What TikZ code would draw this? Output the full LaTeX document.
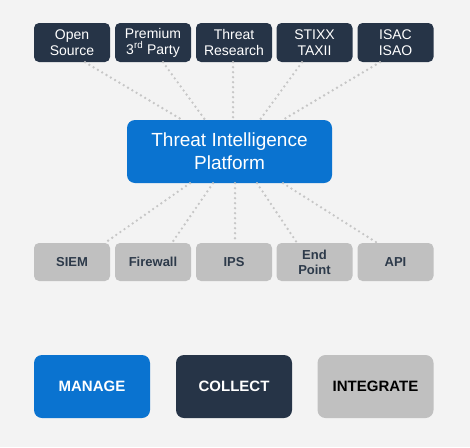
\documentclass[tikz,border=0pt]{standalone}
\usepackage{fontspec}
\setmainfont{Liberation Sans}
\usetikzlibrary{calc}
\definecolor{bgc}{RGB}{243,243,243}
\definecolor{navy}{RGB}{38,52,71}
\definecolor{tblue}{RGB}{10,115,208}
\definecolor{lgray}{RGB}{192,192,192}
\definecolor{dotc}{RGB}{198,198,198}
\definecolor{gtext}{RGB}{45,58,74}
\tikzset{
  srcbox/.style={fill=navy, text=white, rounded corners=5pt, minimum width=76pt, minimum height=39pt, inner sep=0pt, align=center, font=\fontsize{14}{16}\selectfont},
  tipbox/.style={fill=tblue, text=white, rounded corners=8pt, minimum width=205pt, minimum height=63pt, inner sep=0pt, align=center, font=\fontsize{19}{23}\selectfont},
  dstbox/.style={fill=lgray, text=gtext, rounded corners=5pt, minimum width=76pt, minimum height=38pt, inner sep=0pt, align=center, font=\fontsize{13}{15}\selectfont\bfseries},
  btn/.style={rounded corners=8pt, minimum width=116pt, minimum height=63pt, inner sep=0pt, align=center, font=\fontsize{15}{17}\selectfont\bfseries},
  dotline/.style={draw=dotc, line width=2.6pt, line cap=round, dash pattern=on 0pt off 5pt}
}
\begin{document}
\begin{tikzpicture}[x=1pt,y=-1pt]
\fill[bgc] (0,0) rectangle (470,447);
\useasboundingbox (0,0) rectangle (470,447);
% top sources
\node[srcbox] (os) at (72,42.5) {Open\\Source};
\node[srcbox] (pr) at (153,42.5) {Premium\\3\textsuperscript{rd} Party};
\node[srcbox] (tr) at (234,42.5) {Threat\\Research};
\node[srcbox] (st) at (314.5,42.5) {STIXX\\TAXII};
\node[srcbox] (is) at (395.5,42.5) {ISAC\\ISAO};
% central
\node[tipbox] (tip) at (229.5,151.5) {Threat Intelligence\\Platform};
% bottom destinations
\node[dstbox] (si) at (72,262) {SIEM};
\node[dstbox] (fw) at (153,262) {Firewall};
\node[dstbox] (ip) at (234,262) {IPS};
\node[dstbox] (ep) at (314.5,262) {End\\Point};
\node[dstbox] (ap) at (395.5,262) {API};
% buttons
\node[btn, fill=tblue, text=white] (mg) at (92,386.5) {MANAGE};
\node[btn, fill=navy, text=white] (cl) at (234,386.5) {COLLECT};
\node[btn, fill=lgray, text=black] (ig) at (375.5,386.5) {INTEGRATE};
% dotted connectors top
\draw[dotline] ([xshift=13pt]os.south) -- ([xshift=-47.5pt]tip.north);
\draw[dotline] ([xshift=10pt]pr.south) -- ([xshift=-24.5pt]tip.north);
\draw[dotline] ([xshift=-1pt]tr.south) -- ([xshift=3.5pt]tip.north);
\draw[dotline] ([xshift=-12.5pt]st.south) -- ([xshift=30.5pt]tip.north);
\draw[dotline] ([xshift=-15.5pt]is.south) -- ([xshift=53.5pt]tip.north);
% dotted connectors bottom
\draw[dotline] ([xshift=-39.5pt]tip.south) -- ([xshift=33pt]si.north);
\draw[dotline] ([xshift=-16.5pt]tip.south) -- ([xshift=19pt]fw.north);
\draw[dotline] ([xshift=5.5pt]tip.south) -- ([xshift=1pt]ip.north);
\draw[dotline] ([xshift=27.5pt]tip.south) -- ([xshift=-17.5pt]ep.north);
\draw[dotline] ([xshift=53.5pt]tip.south) -- ([xshift=-18.5pt]ap.north);
\end{tikzpicture}
\end{document}
